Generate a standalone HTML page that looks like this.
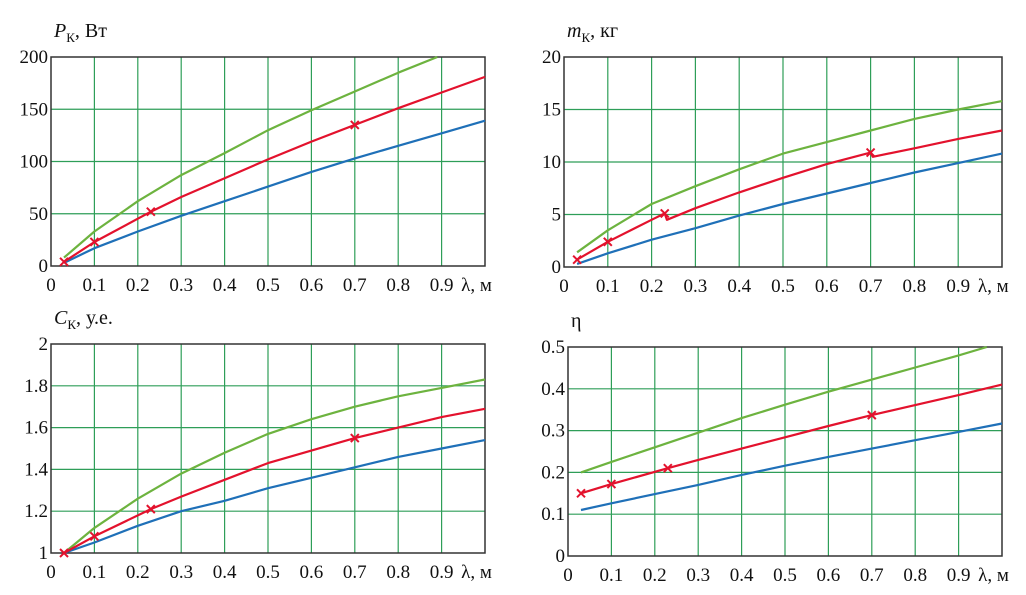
<!DOCTYPE html>
<html><head><meta charset="utf-8">
<style>
html,body{margin:0;padding:0;background:#fff;}
svg{display:block;font-family:"Liberation Serif",serif;}
</style></head>
<body>
<svg id="c" width="1026" height="595" viewBox="0 0 1026 595" xmlns="http://www.w3.org/2000/svg"></svg>
<script>
// ---- data ----
const xTicks = ["0","0.1","0.2","0.3","0.4","0.5","0.6","0.7","0.8","0.9"];
const markerX = [0.03,0.1,0.23,0.7];

const pGreenX=[0.03,0.1,0.2,0.3,0.4,0.5,0.6,0.7,0.8,0.89];
const pGreenY=[8,33,62,87,108,130,149,167,185,200];
const pRedX=[0.03,0.1,0.23,0.3,0.4,0.5,0.6,0.7,0.8,0.9,1.0];
const pRedY=[4,23,52,66,84,102,119,135,151,166,181];
const pBlueX=[0.03,0.08,0.1,0.2,0.3,0.4,0.5,0.6,0.7,0.8,0.9,1.0];
const pBlueY=[3,13,17,33,48,62,76,90,103,115,127,139];
const pTicks=["0","50","100","150","200"];

const mGreenX=[0.03,0.1,0.2,0.3,0.4,0.5,0.6,0.7,0.8,0.9,1.0];
const mGreenY=[1.4,3.5,6.0,7.7,9.3,10.8,11.9,13.0,14.1,15.0,15.8];
const mRedX=[0.03,0.1,0.2,0.23,0.235,0.3,0.4,0.5,0.6,0.7,0.705,0.8,0.9,1.0];
const mRedY=[0.7,2.4,4.5,5.1,4.5,5.6,7.1,8.5,9.8,10.9,10.5,11.3,12.2,13.0];
const mBlueX=[0.03,0.1,0.2,0.3,0.4,0.5,0.6,0.7,0.8,0.9,1.0];
const mBlueY=[0.3,1.3,2.6,3.7,4.9,6.0,7.0,8.0,9.0,9.9,10.8];
const mTicks=["0","5","10","15","20"];

const cGreenX=[0.03,0.1,0.2,0.3,0.4,0.5,0.6,0.7,0.8,0.9,1.0];
const cGreenY=[1.0,1.12,1.26,1.38,1.48,1.57,1.64,1.70,1.75,1.79,1.83];
const cRedX=[0.03,0.1,0.23,0.3,0.4,0.5,0.6,0.7,0.8,0.9,1.0];
const cRedY=[1.0,1.08,1.21,1.27,1.35,1.43,1.49,1.55,1.60,1.65,1.69];
const cBlueX=[0.03,0.1,0.2,0.3,0.4,0.5,0.6,0.7,0.8,0.9,1.0];
const cBlueY=[1.0,1.05,1.13,1.20,1.25,1.31,1.36,1.41,1.46,1.50,1.54];
const cTicks=["1","1.2","1.4","1.6","1.8","2"];

const eGreenX=[0.03,0.1,0.2,0.3,0.4,0.5,0.6,0.7,0.8,0.9,0.965];
const eGreenY=[0.20,0.225,0.26,0.295,0.33,0.362,0.393,0.422,0.451,0.48,0.5];
const eRedX=[0.03,0.1,0.23,0.3,0.4,0.5,0.6,0.7,0.8,0.9,1.0];
const eRedY=[0.15,0.172,0.21,0.23,0.257,0.284,0.311,0.337,0.361,0.385,0.41];
const eBlueX=[0.03,0.1,0.2,0.3,0.4,0.5,0.6,0.7,0.8,0.9,1.0];
const eBlueY=[0.11,0.126,0.148,0.17,0.194,0.216,0.237,0.257,0.277,0.297,0.317];
const eTicks=["0","0.1","0.2","0.3","0.4","0.5"];

const NS="http://www.w3.org/2000/svg";
const svg=document.getElementById('c');
function mk(tag,attrs,parent){const e=document.createElementNS(NS,tag);for(const k in attrs)e.setAttribute(k,attrs[k]);(parent||svg).appendChild(e);return e;}

function panel(name,box,ymin,ymax,yTicks,titleHTML,series,markerSeries){
  const g=mk('g',{});
  
  
  const sx=v=>box.x0+(box.x1-box.x0)*v;
  const sy=v=>box.y1-(box.y1-box.y0)*(v-ymin)/(ymax-ymin);
  // grid
  for(let i=1;i<10;i++){
    const l=mk('line',{x1:sx(i/10),x2:sx(i/10),y1:box.y0,y2:box.y1,stroke:'#2e9e58','stroke-width':1.2},g);
    
    
  }
  yTicks.forEach((t,i)=>{
    const v=parseFloat(t);
    if(i>0&&i<yTicks.length-1){
      const l=mk('line',{x1:box.x0,x2:box.x1,y1:sy(v),y2:sy(v),stroke:'#2e9e58','stroke-width':1.2},g);
      
      
    }
    const tx=mk('text',{x:box.x0-3,y:sy(v)+6,'text-anchor':'end','font-size':19,fill:'#111'},g);
    tx.textContent=t;
    
    
  });
  xTicks.forEach((t,i)=>{
    const tx=mk('text',{x:sx(i/10),y:box.y1+25,'text-anchor':'middle','font-size':19,fill:'#111'},g);
    tx.textContent=t;
    
    
  });
  const xl=mk('text',{x:sx(0.945),y:box.y1+25,'font-size':19,fill:'#111'},g);
  xl.textContent='λ, м';
  
  
  const fr=mk('rect',{x:box.x0,y:box.y0,width:box.x1-box.x0,height:box.y1-box.y0,fill:'none',stroke:'#333','stroke-width':1.5},g);
  
  
  // title
  const tt=mk('text',{x:box.x0+3,y:box.y0-20,'font-size':20,fill:'#111'},g);
  tt.innerHTML=titleHTML;
  
  
  // series
  series.forEach(s=>{
    const d=s.x.map((v,i)=>(i?'L':'M')+sx(v).toFixed(1)+' '+sy(s.y[i]).toFixed(1)).join(' ');
    const p=mk('path',{d:d,fill:'none',stroke:s.c,'stroke-width':2.2,'stroke-linejoin':'round'},g);
    
    
  });
  // markers on red
  const r=markerSeries;
  markerX.forEach(mx=>{
    let idx=r.x.findIndex(v=>Math.abs(v-mx)<1e-9);
    if(idx<0)return;
    const cx=sx(mx),cy=sy(r.y[idx]);
    const m=mk('path',{d:`M${cx-4} ${cy-4}L${cx+4} ${cy+4}M${cx-4} ${cy+4}L${cx+4} ${cy-4}`,stroke:'#e3122d','stroke-width':2},g);
    
    
  });
}
const G='#6db33f',R='#e3122d',B='#1f70b8';
panel('power-chart',{x0:51,x1:485,y0:57,y1:266},0,200,pTicks,
  '<tspan font-style="italic">P</tspan><tspan font-size="13" dy="5">К</tspan><tspan dy="-5">, Вт</tspan>',
  [{x:pBlueX,y:pBlueY,c:B,n:'blue-line'},{x:pGreenX,y:pGreenY,c:G,n:'green-line'},{x:pRedX,y:pRedY,c:R,n:'red-line'}],{x:pRedX,y:pRedY});
panel('mass-chart',{x0:564,x1:1002,y0:57,y1:267},0,20,mTicks,
  '<tspan font-style="italic">m</tspan><tspan font-size="13" dy="5">К</tspan><tspan dy="-5">, кг</tspan>',
  [{x:mBlueX,y:mBlueY,c:B,n:'blue-line'},{x:mGreenX,y:mGreenY,c:G,n:'green-line'},{x:mRedX,y:mRedY,c:R,n:'red-line'}],{x:mRedX,y:mRedY});
panel('cost-chart',{x0:51,x1:485,y0:344,y1:553},1,2,cTicks,
  '<tspan font-style="italic">C</tspan><tspan font-size="13" dy="5">К</tspan><tspan dy="-5">, у.е.</tspan>',
  [{x:cBlueX,y:cBlueY,c:B,n:'blue-line'},{x:cGreenX,y:cGreenY,c:G,n:'green-line'},{x:cRedX,y:cRedY,c:R,n:'red-line'}],{x:cRedX,y:cRedY});
panel('efficiency-chart',{x0:568,x1:1002,y0:347,y1:556},0,0.5,eTicks,
  'η',
  [{x:eBlueX,y:eBlueY,c:B,n:'blue-line'},{x:eGreenX,y:eGreenY,c:G,n:'green-line'},{x:eRedX,y:eRedY,c:R,n:'red-line'}],{x:eRedX,y:eRedY});
</script>
</body></html>
